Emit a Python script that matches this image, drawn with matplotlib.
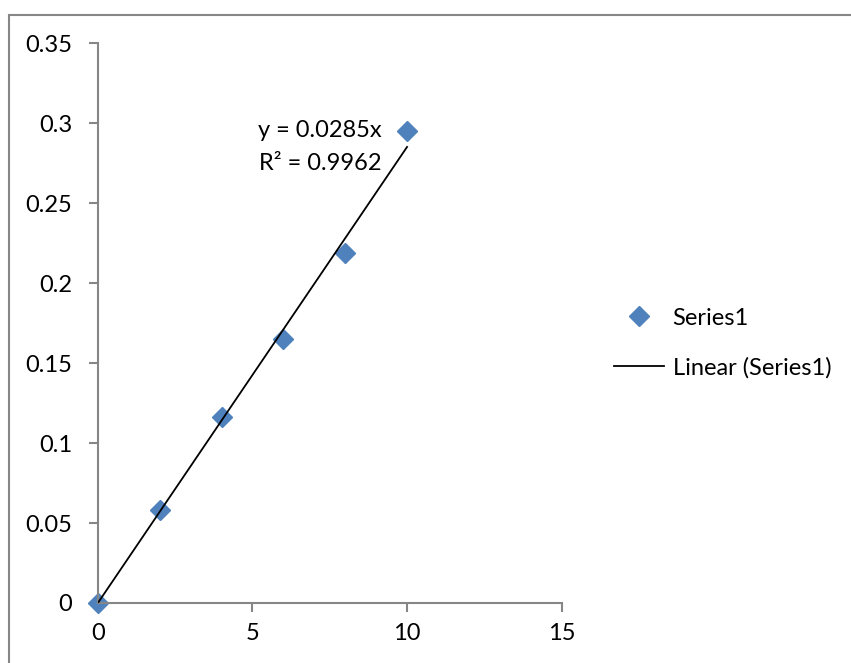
import matplotlib
matplotlib.use("Agg")
import matplotlib.pyplot as plt
from matplotlib.patches import Rectangle
import numpy as np

# data
x_vals = [0, 2, 4, 6, 8, 10]
y_vals = [0, 0.058, 0.116, 0.165, 0.219, 0.295]
x_ticks = [0, 5, 10, 15]
y_ticks = [0, 0.05, 0.1, 0.15, 0.2, 0.25, 0.3, 0.35]
y_ticklabels = ["0", "0.05", "0.1", "0.15", "0.2", "0.25", "0.3", "0.35"]

plt.rcParams['font.family'] = ['Lato', 'DejaVu Sans']
axis_grey = '#868686'
fs = 17

fig = plt.figure(figsize=(8.51, 6.63), dpi=100)
ax = fig.add_axes([0.115, 0.0905, 0.545, 0.8445])

# outer chart border (cut off at right/bottom like the screenshot)
fig.patches.append(Rectangle((9 / 851, -0.05), 1.2, 1 - 15 / 663 + 0.05,
                             transform=fig.transFigure, fill=False,
                             edgecolor=axis_grey, linewidth=1.5, zorder=0))

# linear trendline through origin
xs = np.array(x_vals, dtype=float)
ys = np.array(y_vals, dtype=float)
slope = (xs * ys).sum() / (xs * xs).sum()
ax.plot([0, 10], [0, slope * 10], color='black', linewidth=1.3,
        label='Linear (Series1)', zorder=3)
ax.plot(x_vals, y_vals, linestyle='none', marker='D', markersize=10.5,
        color='#4F81BD', label='Series1', zorder=2, clip_on=False)

ax.set_xlim(0, 15)
ax.set_ylim(0, 0.35)
ax.set_xticks(x_ticks)
ax.set_yticks(y_ticks)
ax.set_yticklabels(y_ticklabels)
ax.tick_params(direction='out', length=6.5, width=1.5, color=axis_grey,
               labelsize=fs)
ax.tick_params(axis='x', pad=8)
ax.tick_params(axis='y', pad=12)
for s in ['top', 'right']:
    ax.spines[s].set_visible(False)
for s in ['left', 'bottom']:
    ax.spines[s].set_color(axis_grey)
    ax.spines[s].set_linewidth(1.5)

ax.text(9.18, 0.2955, 'y = 0.0285x', fontsize=fs, ha='right', va='center')
ax.text(9.18, 0.2745, 'R² = 0.9962', fontsize=fs, ha='right', va='center')

handles, labels = ax.get_legend_handles_labels()
fig.legend(handles[::-1], labels[::-1], loc='center left',
           bbox_to_anchor=(614 / 851, 0.4827), frameon=False, fontsize=fs,
           borderpad=0, borderaxespad=0,
           handlelength=2.1, handletextpad=0.38, labelspacing=1.2)

fig.savefig('out.png', dpi=100)
